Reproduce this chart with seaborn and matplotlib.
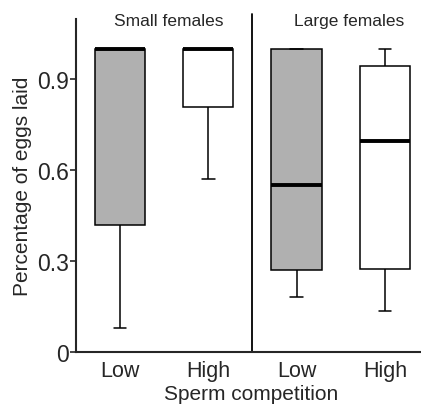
import pandas as pd
import matplotlib
matplotlib.use("Agg")
import matplotlib.pyplot as plt
import seaborn as sns

# five-number summaries (whisker low, q1, median, q3, whisker high)
groups = ["Small Low", "Small High", "Large Low", "Large High"]
competition = ["Low", "High", "Low", "High"]
lower_whisker = [0.08, 0.57, 0.18, 0.135]
q1 = [0.42, 0.81, 0.27, 0.273]
median = [1.0, 1.0, 0.55, 0.697]
q3 = [1.0, 1.0, 1.0, 0.943]
upper_whisker = [1.0, 1.0, 1.0, 1.0]

tick_labels = ["Low", "High", "Low", "High"]
panel_titles = ["Small females", "Large females"]

# 5 values per group -> with whis=(0, 100) boxplot reproduces the summaries exactly
rows = []
for g, c, a, b, m, d, e in zip(groups, competition, lower_whisker, q1, median, q3, upper_whisker):
    for v in (a, b, m, d, e):
        rows.append({"group": g, "competition": c, "value": v})
df = pd.DataFrame(rows)

sns.set_style("ticks")
plt.rcParams["font.family"] = ["Liberation Sans", "DejaVu Sans"]

fig = plt.figure(figsize=(4.21, 4.06), dpi=100)
ax = fig.add_axes([0.1805, 0.131, 0.83, 0.82])

sns.boxplot(data=df, x="group", y="value", hue="competition", order=groups,
            palette={"Low": "#b0b0b0", "High": "white"}, dodge=False, legend=False,
            whis=(0, 100), width=0.57, linecolor="black", linewidth=1.1,
            medianprops={"linewidth": 2.8, "color": "black"},
            capwidths=0.14, ax=ax)

ax.set_ylim(0, 1.1)
ax.set_xlim(-0.5, 3.46)
ax.set_yticks([0, 0.3, 0.6, 0.9])
ax.set_yticklabels(["0", "0.3", "0.6", "0.9"])
ax.set_xticks(range(4))
ax.set_xticklabels(tick_labels)
ax.tick_params(axis="y", labelsize=16.5, length=4, width=1.2, direction="out", pad=1)
ax.tick_params(axis="x", labelsize=15.5, length=0, pad=6)

ax.set_ylabel("Percentage of eggs laid", fontsize=15, labelpad=4)
ax.set_xlabel("Sperm competition", fontsize=15, labelpad=2)

sns.despine(ax=ax, top=True, right=True)
for s in ("left", "bottom"):
    ax.spines[s].set_linewidth(1.5)

ax.axvline(1.5, ymin=0, ymax=1.015, color="black", linewidth=1.3, clip_on=False)

ax.text(0.546, 1.095, panel_titles[0], ha="center", va="center", fontsize=12.5)
ax.text(2.59, 1.095, panel_titles[1], ha="center", va="center", fontsize=12.5)

fig.savefig("out.png", dpi=100)
